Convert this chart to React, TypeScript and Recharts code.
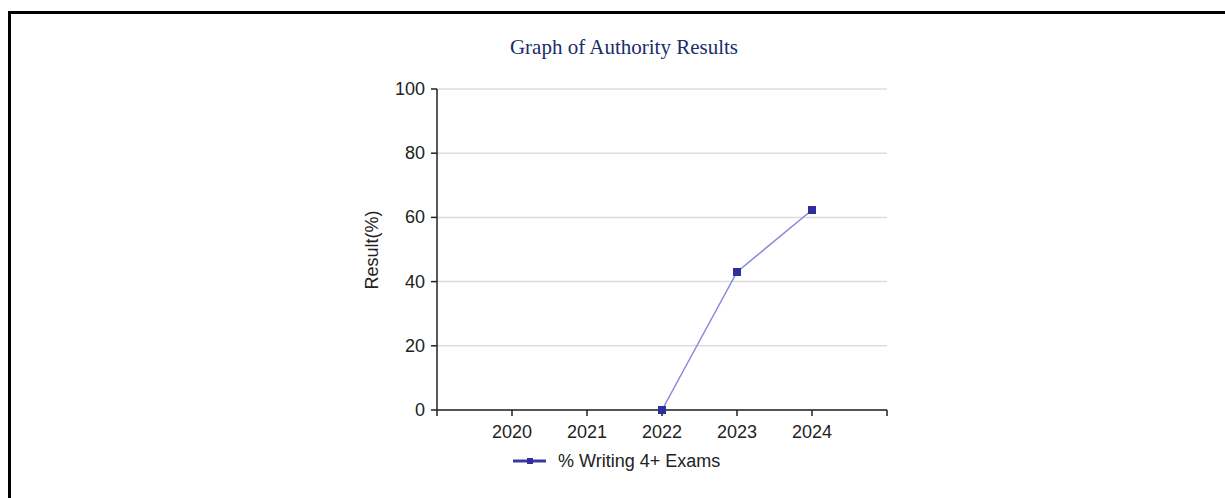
import React from "react";
import { LineChart, Line, XAxis, YAxis, CartesianGrid } from "recharts";

const years = [2020, 2021, 2022, 2023, 2024];
const writing4Plus: (number | null)[] = [null, null, 0, 43, 62.3];
const xTicks = [2019, 2020, 2021, 2022, 2023, 2024, 2025];
const yTicks = [0, 20, 40, 60, 80, 100];
const title = "Graph of Authority Results";
const seriesName = "% Writing 4+ Exams";
const yLabel = "Result(%)";

const data = years.map((y, i) => ({ year: y, value: writing4Plus[i] }));

const FONT = "Arial, 'Liberation Sans', sans-serif";
const FS = 18;

const SquareDot = (props: any) => {
  const { cx, cy, value, index } = props;
  if (value == null || cx == null || cy == null) return <g key={`d${index}`} />;
  return <rect key={`d${index}`} x={cx - 4} y={cy - 4} width={8} height={8} fill="#2e2e9c" />;
};

const XTick = (props: any) => {
  const { x, y, payload } = props;
  const v = payload.value;
  if (v === 2019 || v === 2025) return <g />;
  return (
    <text x={x} y={y + 20} textAnchor="middle" fill="#222" fontSize={FS} fontFamily={FONT}>
      {String(v)}
    </text>
  );
};

const YTick = (props: any) => {
  const { x, y, payload } = props;
  return (
    <text x={x - 4} y={y + 6} textAnchor="end" fill="#222" fontSize={FS} fontFamily={FONT}>
      {String(payload.value)}
    </text>
  );
};

export default function App() {
  return (
    <div style={{ position: "absolute", left: 0, top: 0, width: 1225, height: 498, overflow: "hidden", background: "#fff" }}>
      <div
        style={{
          position: "absolute",
          left: 8,
          top: 11,
          width: 1400,
          height: 700,
          borderTop: "3px solid #000",
          borderLeft: "3px solid #000",
        }}
      />
      <div
        style={{
          position: "absolute",
          left: 0,
          width: 1248,
          top: 33,
          textAlign: "center",
          fontFamily: "'Liberation Serif', 'Times New Roman', serif",
          fontSize: 21,
          color: "#1b2c6b",
          lineHeight: "28px",
        }}
      >
        {title}
      </div>
      <div style={{ position: "absolute", left: 0, top: 0 }}>
        <LineChart
          width={1225}
          height={498}
          data={data}
          margin={{ top: 89, right: 338, left: 377, bottom: 58 }}
        >
          <CartesianGrid vertical={false} stroke="#dcdcdc" strokeWidth={1.5} />
          <XAxis
            dataKey="year"
            type="number"
            domain={[2019, 2025]}
            ticks={xTicks}
            interval={0}
            axisLine={{ stroke: "#222", strokeWidth: 1.5 }}
            tickLine={{ stroke: "#222", strokeWidth: 1.5 }}
            tickSize={6}
            height={30}
            tick={<XTick />}
          />
          <YAxis
            domain={[0, 100]}
            ticks={yTicks}
            interval={0}
            width={60}
            axisLine={{ stroke: "#222", strokeWidth: 1.5 }}
            tickLine={{ stroke: "#222", strokeWidth: 1.5 }}
            tickSize={6}
            tick={<YTick />}
          />
          <Line
            dataKey="value"
            stroke="#8a88dc"
            strokeWidth={1.5}
            dot={<SquareDot />}
            activeDot={false}
            isAnimationActive={false}
            connectNulls={false}
          />
        </LineChart>
      </div>
      <div
        style={{
          position: "absolute",
          left: 372,
          top: 250,
          transform: "translate(-50%, -50%) rotate(-90deg)",
          fontFamily: FONT,
          fontSize: FS,
          color: "#222",
          whiteSpace: "nowrap",
        }}
      >
        {yLabel}
      </div>
      <div
        style={{
          position: "absolute",
          left: 512,
          top: 450,
          display: "flex",
          alignItems: "center",
          fontFamily: FONT,
          fontSize: FS,
          color: "#222",
          whiteSpace: "nowrap",
        }}
      >
        <svg width={36} height={22} style={{ marginRight: 10 }}>
          <line x1={1} y1={11} x2={34} y2={11} stroke="#3a3a9e" strokeWidth={3} />
          <rect x={15} y={8} width={6} height={6} fill="#2e2e9c" />
        </svg>
        <span>{seriesName}</span>
      </div>
    </div>
  );
}
